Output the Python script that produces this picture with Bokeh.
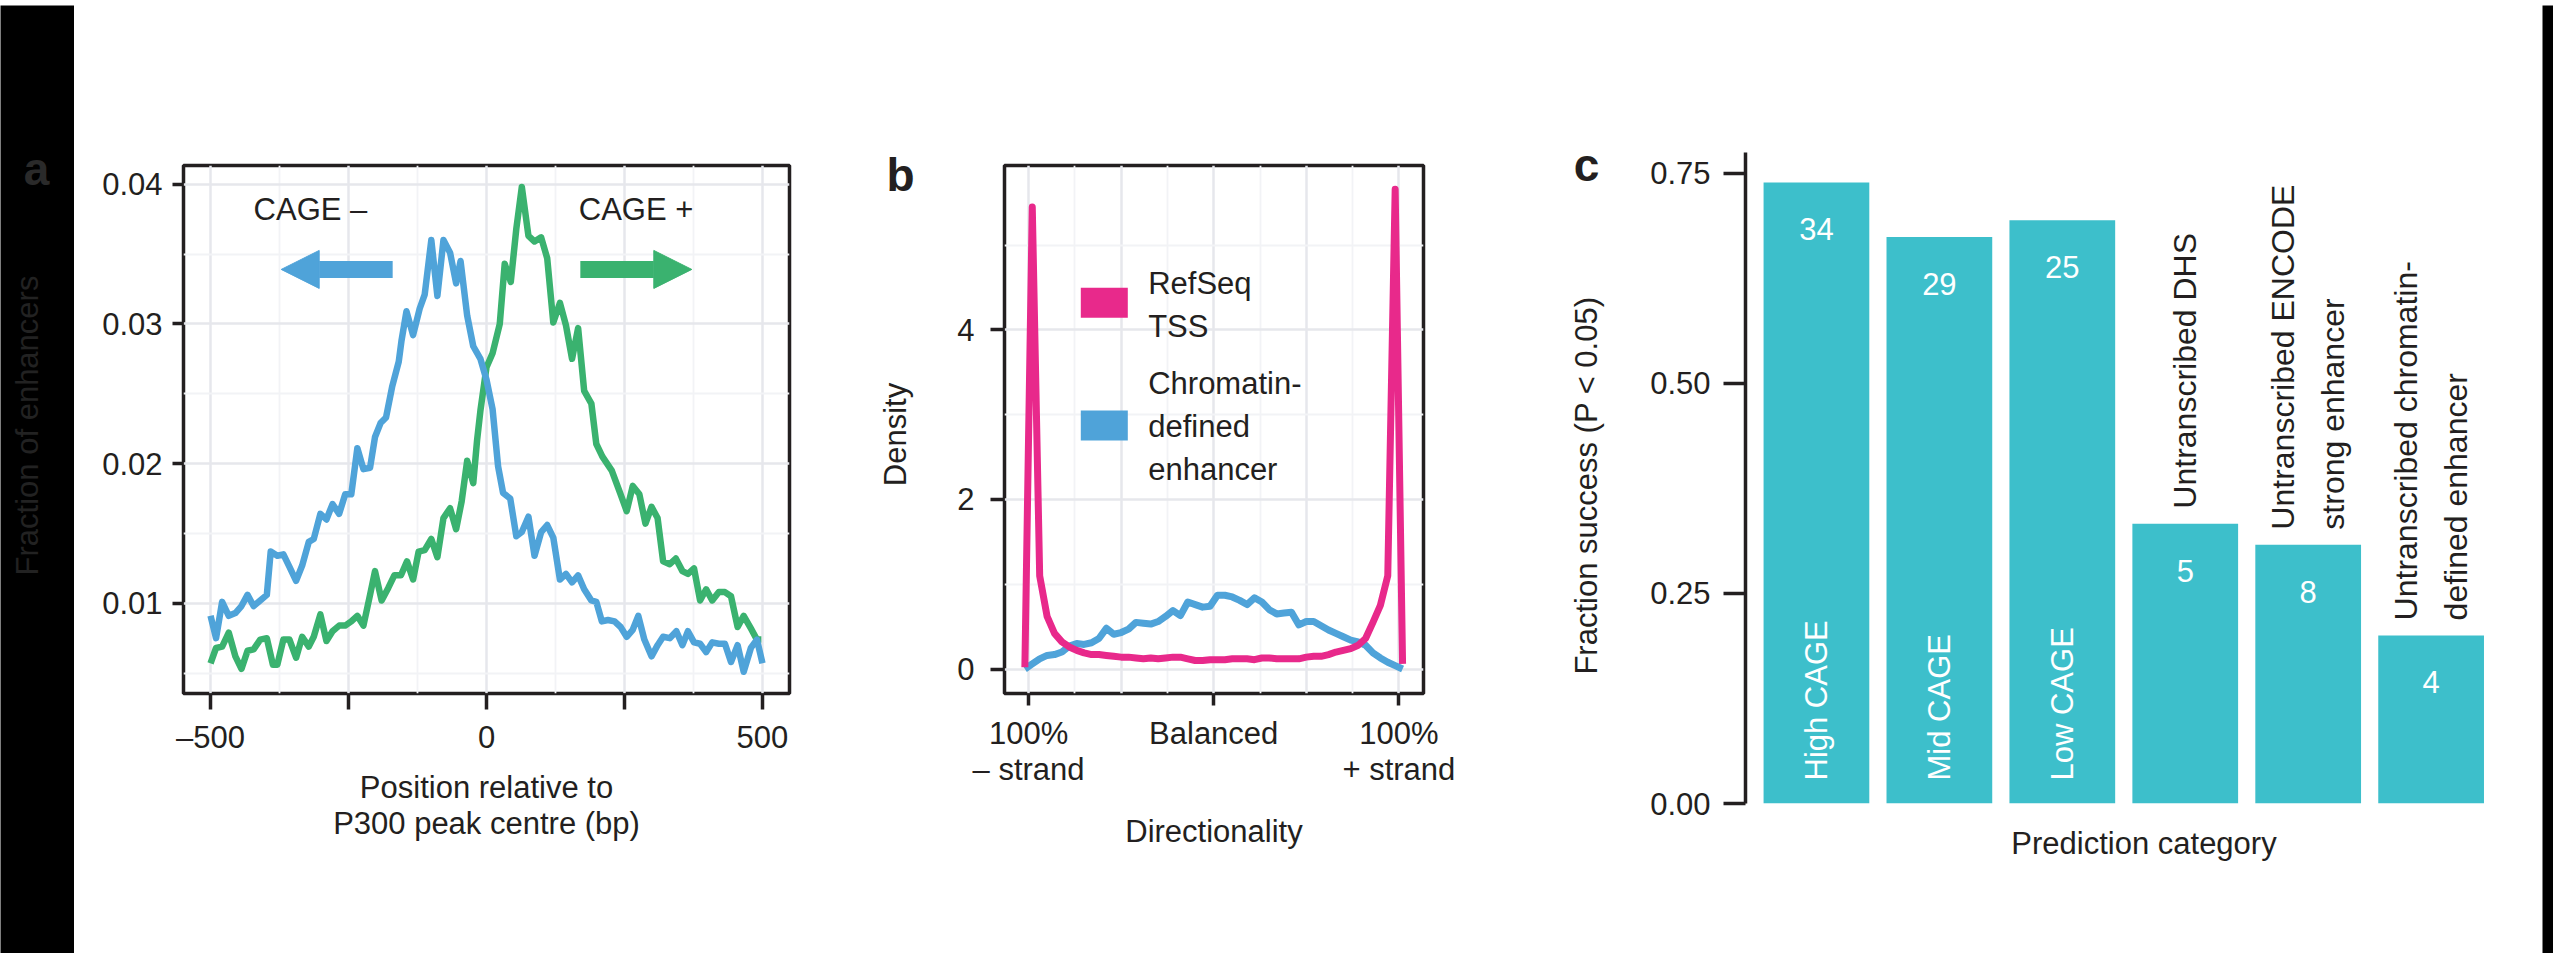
import math
from bokeh.plotting import figure
from bokeh.models import Range1d, FixedTicker, Arrow, NormalHead
from bokeh.layouts import row, column
from bokeh.embed import file_html
from bokeh.resources import INLINE
from bokeh.core.properties import value

# ---------------- data ----------------
# Panel a : fraction of enhancers by position relative to P300 peak centre
cage_minus_pos = [-500, -490, -479, -467, -455, -444, -433, -422, -410, -398, -391, -379, -368, -357, -345,
                  -334, -322, -313, -301, -290, -279, -267, -256, -245, -234, -223, -211, -202, -192, -182,
                  -171, -159, -154, -145, -133, -121, -112, -100, -89, -78, -66, -55, -47, -35, -24, -11,
                  0, 11, 21, 30, 43, 54, 64, 76, 87, 99, 110, 121, 133, 144, 155, 166, 177, 190, 199, 209,
                  220, 232, 243, 254, 265, 275, 286, 299, 310, 320, 332, 344, 355, 365, 376, 387, 398, 409,
                  421, 432, 443, 455, 466, 479, 490, 500]
cage_minus_frac = [0.0091, 0.0075, 0.0101, 0.0091, 0.0093, 0.0098, 0.0106, 0.0098, 0.0102, 0.0106, 0.0137,
                   0.0134, 0.0135, 0.0126, 0.0116, 0.0127, 0.0144, 0.0146, 0.0164, 0.0160, 0.0171, 0.0164,
                   0.0178, 0.0178, 0.0211, 0.0196, 0.0197, 0.0219, 0.0229, 0.0233, 0.0255, 0.0273, 0.0288,
                   0.0309, 0.0292, 0.0311, 0.0321, 0.0360, 0.0320, 0.0360, 0.0351, 0.0329, 0.0345, 0.0306,
                   0.0284, 0.0275, 0.0260, 0.0239, 0.0198, 0.0179, 0.0175, 0.0148, 0.0151, 0.0162, 0.0134,
                   0.0151, 0.0156, 0.0147, 0.0117, 0.0121, 0.0115, 0.0120, 0.0110, 0.0102, 0.0101, 0.0087,
                   0.0088, 0.0087, 0.0083, 0.0076, 0.0081, 0.0091, 0.0074, 0.0062, 0.0070, 0.0076, 0.0075,
                   0.0080, 0.0070, 0.0080, 0.0072, 0.0071, 0.0065, 0.0072, 0.0071, 0.0071, 0.0058, 0.0070,
                   0.0051, 0.0068, 0.0074, 0.0057]
cage_plus_pos = [-500, -490, -479, -467, -455, -444, -433, -422, -410, -398, -387, -379, -368, -357, -345,
                 -334, -322, -313, -301, -290, -279, -267, -256, -245, -234, -223, -211, -202, -190, -178,
                 -167, -155, -144, -133, -123, -112, -100, -89, -78, -66, -55, -45, -35, -24, -17, -11,
                 0, 11, 24, 33, 44, 54, 64, 76, 87, 99, 110, 121, 133, 144, 155, 166, 177, 190, 199, 210,
                 227, 242, 254, 265, 277, 288, 299, 310, 320, 332, 343, 355, 365, 376, 387, 398, 409, 421,
                 432, 443, 455, 466, 479, 490, 498]
cage_plus_frac = [0.0057, 0.0068, 0.0069, 0.0079, 0.0062, 0.0053, 0.0066, 0.0067, 0.0074, 0.0075, 0.0056,
                  0.0056, 0.0074, 0.0074, 0.0061, 0.0076, 0.0069, 0.0076, 0.0092, 0.0073, 0.0080, 0.0084,
                  0.0084, 0.0087, 0.0091, 0.0084, 0.0106, 0.0123, 0.0102, 0.0111, 0.0120, 0.0120, 0.0130,
                  0.0117, 0.0137, 0.0138, 0.0146, 0.0133, 0.0161, 0.0168, 0.0153, 0.0173, 0.0202, 0.0186,
                  0.0217, 0.0238, 0.0269, 0.0279, 0.0300, 0.0343, 0.0330, 0.0368, 0.0398, 0.0363, 0.0359,
                  0.0362, 0.0347, 0.0301, 0.0315, 0.0299, 0.0275, 0.0297, 0.0252, 0.0243, 0.0214, 0.0205,
                  0.0195, 0.0179, 0.0166, 0.0184, 0.0178, 0.0157, 0.0169, 0.0161, 0.0130, 0.0128, 0.0132,
                  0.0123, 0.0121, 0.0125, 0.0102, 0.0110, 0.0102, 0.0108, 0.0108, 0.0105, 0.0083, 0.0091,
                  0.0082, 0.0074, 0.0074]
a_xticks = [-500, -250, 0, 250, 500]
a_xtick_labels = ["–500", "", "0", "", "500"]
a_xminor = [-375, -125, 125, 375]
a_yticks = [0.01, 0.02, 0.03, 0.04]
a_ytick_labels = ["0.01", "0.02", "0.03", "0.04"]
a_yminor = [0.005, 0.015, 0.025, 0.035]
cage_labels = ["CAGE –", "CAGE +"]
cage_label_x = [-319, 271]
cage_label_y = [0.0382, 0.0382]
arrow_y = 0.0339
arrow_minus = [-170, -372]
arrow_plus = [170, 372]

# Panel b : directionality densities
directionality = [-1.02, -0.98, -0.94, -0.90, -0.86, -0.82, -0.78, -0.74, -0.70, -0.66, -0.62, -0.58, -0.54,
                  -0.50, -0.46, -0.42, -0.38, -0.34, -0.30, -0.26, -0.22, -0.18, -0.14, -0.10, -0.06, -0.02,
                  0.02, 0.06, 0.10, 0.14, 0.18, 0.22, 0.26, 0.30, 0.34, 0.38, 0.42, 0.46, 0.50, 0.54, 0.58,
                  0.62, 0.66, 0.70, 0.74, 0.78, 0.82, 0.86, 0.90, 0.94, 0.98, 1.02]
refseq_tss = [0.02, 5.45, 1.10, 0.62, 0.42, 0.32, 0.26, 0.22, 0.19, 0.17, 0.17, 0.16, 0.15, 0.14, 0.14, 0.13,
              0.12, 0.13, 0.12, 0.13, 0.14, 0.14, 0.12, 0.10, 0.10, 0.11, 0.11, 0.11, 0.12, 0.12, 0.12, 0.11,
              0.13, 0.13, 0.12, 0.12, 0.12, 0.12, 0.14, 0.15, 0.15, 0.17, 0.20, 0.22, 0.24, 0.28, 0.36, 0.55,
              0.75, 1.10, 5.66, 0.06]
chromatin_enh = [0.00, 0.06, 0.12, 0.16, 0.17, 0.20, 0.27, 0.30, 0.29, 0.31, 0.36, 0.48, 0.41, 0.43, 0.47,
                 0.55, 0.54, 0.53, 0.56, 0.62, 0.69, 0.63, 0.79, 0.76, 0.73, 0.74, 0.87, 0.87, 0.85, 0.81,
                 0.76, 0.84, 0.79, 0.70, 0.65, 0.66, 0.67, 0.52, 0.56, 0.56, 0.51, 0.46, 0.42, 0.38, 0.34,
                 0.32, 0.28, 0.19, 0.13, 0.08, 0.04, 0.00]
b_xticks = [-1, 0, 1]
b_xtick_labels = ["100%\n– strand", "Balanced", "100%\n+ strand"]
b_xgrid = [-1, -0.5, 0, 0.5, 1]
b_xgrid_minor = [-0.75, -0.25, 0.25, 0.75]
b_yticks = [0, 2, 4]
b_ytick_labels = ["0", "2", "4"]
b_yminor = [1, 3, 5]
legend_labels = ["RefSeq\nTSS", "Chromatin-\ndefined\nenhancer"]

# Panel c : fraction success per prediction category
categories = ["High CAGE", "Mid CAGE", "Low CAGE", "Untranscribed DHS",
              "Untranscribed  ENCODE\nstrong enhancer", "Untranscribed chromatin-\ndefined enhancer"]
cat_pos = [1, 2, 3, 4, 5, 6]
fraction_success = [0.739, 0.674, 0.694, 0.333, 0.308, 0.200]
n_success = ["34", "29", "25", "5", "8", "4"]
c_yticks = [0, 0.25, 0.5, 0.75]
c_ytick_labels = ["0.00", "0.25", "0.50", "0.75"]

# ---------------- style ----------------
FONT = "Liberation Sans"
INK = "#231F20"
BLUE = "#4FA3D9"
GREEN = "#3AB26F"
PINK = "#E8298B"
TEAL = "#3DBFCB"
GRID_MAJ = "#E6E7EC"
GRID_MIN = "#F2F3F6"
FS = "31px"
H = 948


def make_fig(width, xr, yr, left, right, top, bottom):
    p = figure(width=width, height=H, x_range=xr, y_range=yr, output_backend="svg",
               toolbar_location=None, tools="", min_border_left=left, min_border_right=right,
               min_border_top=top, min_border_bottom=bottom)
    p.background_fill_color = "white"
    p.border_fill_color = "white"
    return p


def style_axis(ax, tick_out, standoff):
    ax.axis_line_color = None
    ax.major_tick_line_color = INK
    ax.major_tick_line_width = 3.5
    ax.major_tick_out = tick_out
    ax.major_tick_in = 0
    ax.minor_tick_line_color = None
    ax.major_label_text_font = FONT
    ax.major_label_text_font_size = FS
    ax.major_label_text_color = INK
    ax.major_label_standoff = standoff
    ax.axis_label_text_font = FONT
    ax.axis_label_text_font_size = FS
    ax.axis_label_text_color = INK
    ax.axis_label_text_font_style = "normal"


def style_grid(p):
    p.grid.grid_line_color = GRID_MAJ
    p.grid.grid_line_width = 2.5
    p.grid.minor_grid_line_color = GRID_MIN
    p.grid.minor_grid_line_width = 1.8


def plain(width, height, bg):
    # pixel-space helper canvas (y measured from its top edge)
    s = figure(width=width, height=height, x_range=Range1d(0, width), y_range=Range1d(height, 0),
               output_backend="svg", toolbar_location=None, tools="", x_axis_type=None,
               y_axis_type=None, min_border=0)
    s.background_fill_color = bg
    s.border_fill_color = bg
    s.outline_line_color = None
    return s


def put(p, x, y, text, size=FS, color=INK, angle=0.0, style="normal", align="center",
        baseline="middle"):
    p.text(x=[x], y=[y], text=[text], angle=angle, text_align=align, text_baseline=baseline,
           text_font=value(FONT), text_font_size=size, text_color=color, text_font_style=style)


# ---------------- left strip (panel a letter + y title) ----------------
strip = plain(74, H, "black")
put(strip, 36, 163, "a", size="46px", color="#2A2A2A", style="bold")
put(strip, 27, 420, "Fraction of enhancers", color="#222222", angle=math.pi / 2)

# ---------------- panel a ----------------
pa = make_fig(776, Range1d(-549, 549), Range1d(0.00354, 0.04134), 109, 61, 160, 260)
pa.outline_line_color = INK
pa.outline_line_width = 3.5
xa = pa.xaxis[0]
xa.ticker = FixedTicker(ticks=a_xticks, minor_ticks=a_xminor)
xa.major_label_overrides = dict(zip(a_xticks, a_xtick_labels))
style_axis(xa, 16, 10)
xa.axis_label = "Position relative to\nP300 peak centre (bp)"
xa.axis_label_standoff = 12
xa.axis_label_text_line_height = 1.05
ya = pa.yaxis[0]
ya.ticker = FixedTicker(ticks=a_yticks, minor_ticks=a_yminor)
ya.major_label_overrides = dict(zip(a_yticks, a_ytick_labels))
style_axis(ya, 11, 10)
style_grid(pa)

pa.line(cage_plus_pos, cage_plus_frac, line_width=6.5, line_color=GREEN, line_join="round")
pa.line(cage_minus_pos, cage_minus_frac, line_width=6.5, line_color=BLUE, line_join="round")
pa.add_layout(Arrow(x_start=arrow_minus[0], y_start=arrow_y, x_end=arrow_minus[1], y_end=arrow_y,
                    line_color=BLUE, line_width=17,
                    end=NormalHead(size=38, fill_color=BLUE, line_color=BLUE, line_width=1)))
pa.add_layout(Arrow(x_start=arrow_plus[0], y_start=arrow_y, x_end=arrow_plus[1], y_end=arrow_y,
                    line_color=GREEN, line_width=17,
                    end=NormalHead(size=38, fill_color=GREEN, line_color=GREEN, line_width=1)))
pa.text(x=cage_label_x, y=cage_label_y, text=cage_labels, text_align="center",
        text_baseline="middle", text_font=value(FONT), text_font_size=FS, text_color=INK)

# ---------------- panel b helper (letter + y title) ----------------
hb = plain(90, H, "white")
put(hb, 50, 169, "b", size="46px", style="bold")
put(hb, 45, 429, "Density", angle=math.pi / 2)

# ---------------- panel b ----------------
pb = make_fig(560, Range1d(-1.13, 1.133), Range1d(-0.289, 5.94), 64, 77, 160, 260)
pb.outline_line_color = INK
pb.outline_line_width = 3.5
xb = pb.xaxis[0]
xb.ticker = FixedTicker(ticks=b_xticks)
xb.major_label_overrides = dict(zip(b_xticks, b_xtick_labels))
style_axis(xb, 12, 10)
xb.major_label_text_line_height = 1.05
xb.axis_label = "Directionality"
xb.axis_label_standoff = 24
yb = pb.yaxis[0]
yb.ticker = FixedTicker(ticks=b_yticks, minor_ticks=b_yminor)
yb.major_label_overrides = dict(zip(b_yticks, b_ytick_labels))
style_axis(yb, 14, 16)
style_grid(pb)
pb.xgrid.ticker = FixedTicker(ticks=b_xgrid, minor_ticks=b_xgrid_minor)

pb.line(directionality, chromatin_enh, line_width=7, line_color=BLUE, line_join="round")
pb.line(directionality, refseq_tss, line_width=7, line_color=PINK, line_join="round")

# legend drawn inside panel
pb.rect(x=[-0.591, -0.591], y=[4.32, 2.873], width=47, height=30, width_units="screen",
        height_units="screen", fill_color=[PINK, BLUE], line_color=None)
pb.text(x=[-0.354, -0.354], y=[4.295, 2.861], text=legend_labels, text_align="left",
        text_baseline="middle", text_font=value(FONT), text_font_size=FS, text_color=INK,
        text_line_height=1.23)

# ---------------- panel c helper (letter + y title) ----------------
hc = plain(130, H, "white")
put(hc, 86, 159, "c", size="46px", style="bold")
put(hc, 86, 480, "Fraction success (P < 0.05)", angle=math.pi / 2)

# ---------------- panel c ----------------
pc = make_fig(912, Range1d(0.423, 6.906), Range1d(0, 0.7746), 115, 0, 147, 150)
pc.outline_line_color = None
pc.grid.visible = False
yc = pc.yaxis[0]
yc.ticker = FixedTicker(ticks=c_yticks)
yc.major_label_overrides = dict(zip(c_yticks, c_ytick_labels))
style_axis(yc, 22, 13)
yc.axis_line_color = INK
yc.axis_line_width = 3.5
xc = pc.xaxis[0]
xc.ticker = FixedTicker(ticks=[])
style_axis(xc, 0, 0)
xc.major_tick_line_color = None
xc.axis_label = "Prediction category"
xc.axis_label_standoff = 22

pc.vbar(x=cat_pos, top=fraction_success, width=0.86, fill_color=TEAL, line_color=None)
pc.text(x=cat_pos, y=fraction_success, text=n_success, y_offset=47, text_align="center",
        text_baseline="middle", text_font=value(FONT), text_font_size=FS, text_color="white")
pc.text(x=cat_pos[:3], y=[0, 0, 0], text=categories[:3], angle=math.pi / 2, y_offset=-23,
        text_align="left", text_baseline="middle", text_font=value(FONT), text_font_size="31px",
        text_color="white")
pc.text(x=cat_pos[3:], y=fraction_success[3:], text=categories[3:], angle=math.pi / 2, y_offset=-15,
        text_align="left", text_baseline="middle", text_font=value(FONT), text_font_size="32px",
        text_color=INK, text_line_height=1.38)

# ---------------- layout ----------------
top_band = plain(2553, 5, "black")
right_strip = plain(11, H, "black")
layout = column(top_band, row(column(strip), column(pa), column(hb), column(pb), column(hc),
                              column(pc), column(right_strip)))

open("out.html", "w").write(file_html(layout, INLINE))
